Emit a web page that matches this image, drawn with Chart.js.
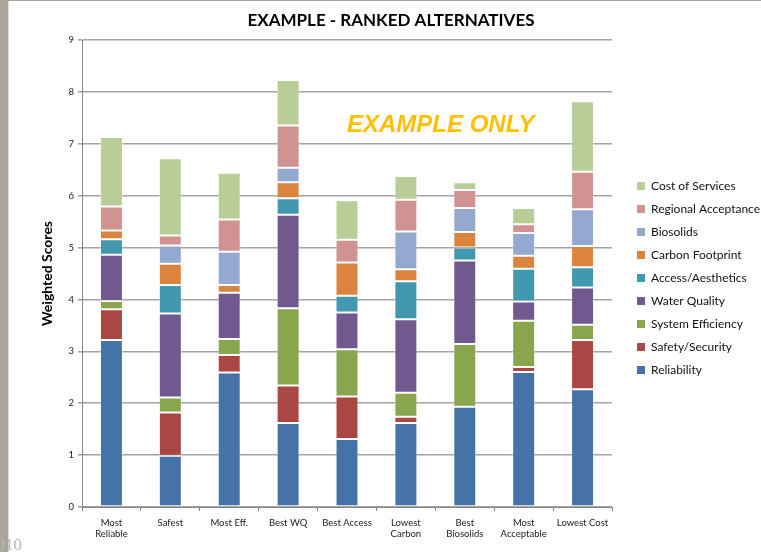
<!DOCTYPE html>
<html lang="en">
<head>
    <meta charset="UTF-8">
    <title>Example - Ranked Alternatives</title>
    <script src="https://cdn.jsdelivr.net/npm/chart.js@4.4.1/dist/chart.umd.min.js"></script>
    <style>
        html, body { margin: 0; padding: 0; background: #fff; }
        #wrap { width: 761px; height: 552px; position: relative; }
    </style>
</head>
<body>
    <div id="wrap">
        <canvas id="chart" width="761" height="552"></canvas>
    </div>

    <script>
        // categories (x axis labels, split in lines)
        const alternatives = [
            ['Most', 'Reliable'], 'Safest', 'Most Eff.', 'Best WQ', 'Best Access',
            ['Lowest', 'Carbon'], ['Best', 'Biosolids'], ['Most', 'Acceptable'], 'Lowest Cost'
        ]

        // weighted score of each criterion, stacked from bottom to top
        const reliability    = [3.22, 0.99, 2.59, 1.62, 1.31, 1.62, 1.93, 2.60, 2.27]
        const safetySecurity = [0.59, 0.83, 0.34, 0.72, 0.82, 0.12, 0.00, 0.10, 0.95]
        const systemEff      = [0.16, 0.29, 0.31, 1.49, 0.91, 0.46, 1.21, 0.89, 0.29]
        const waterQuality   = [0.89, 1.62, 0.89, 1.80, 0.71, 1.42, 1.61, 0.37, 0.72]
        const accessAesth    = [0.30, 0.55, 0.00, 0.32, 0.32, 0.73, 0.25, 0.63, 0.39]
        const carbonFoot     = [0.17, 0.41, 0.15, 0.31, 0.64, 0.23, 0.30, 0.25, 0.41]
        const biosolids      = [0.00, 0.35, 0.64, 0.28, 0.00, 0.73, 0.46, 0.44, 0.71]
        const regionalAcc    = [0.46, 0.19, 0.62, 0.81, 0.44, 0.61, 0.35, 0.17, 0.72]
        const costServices   = [1.34, 1.49, 0.90, 0.88, 0.76, 0.46, 0.15, 0.31, 1.36]

        const yTicks = [0, 1, 2, 3, 4, 5, 6, 7, 8, 9]

        const font = 'Lato, "Noto Sans", sans-serif'

        const series = [
            ['Reliability', reliability, '#4572A7'],
            ['Safety/Security', safetySecurity, '#AA4643'],
            ['System Efficiency', systemEff, '#89A54E'],
            ['Water Quality', waterQuality, '#71588F'],
            ['Access/Aesthetics', accessAesth, '#4198AF'],
            ['Carbon Footprint', carbonFoot, '#DB843D'],
            ['Biosolids', biosolids, '#93A9CF'],
            ['Regional Acceptance', regionalAcc, '#D19392'],
            ['Cost of Services', costServices, '#B9CD96']
        ]

        // slide background: grey strip at the left, footer number
        const slideBg = {
            id: 'slideBg',
            beforeDraw(c) {
                const ctx = c.ctx
                ctx.save()
                ctx.fillStyle = '#fff'
                ctx.fillRect(0, 0, c.width, c.height)
                ctx.fillStyle = '#a9a699'
                ctx.fillRect(0, 0, 8, c.height)
                ctx.fillRect(0, 0, c.width, 1)
                ctx.fillStyle = '#dcdcdc'
                ctx.fillRect(8, 1, 1, c.height)
                ctx.restore()
            },
            afterDraw(c) {
                const ctx = c.ctx
                ctx.save()
                ctx.fillStyle = '#b8b8b8'
                ctx.font = '17px "Liberation Serif", serif'
                ctx.textAlign = 'right'
                ctx.textBaseline = 'alphabetic'
                ctx.fillText('2010', 22, 550)
                ctx.restore()
            }
        }

        // title, watermark and legend on the right
        const extras = {
            id: 'extras',
            afterDraw(c) {
                const ctx = c.ctx
                ctx.save()
                ctx.textBaseline = 'middle'

                ctx.fillStyle = '#000'
                ctx.textAlign = 'center'
                ctx.font = 'bold 17px ' + font
                ctx.fillText('EXAMPLE - RANKED ALTERNATIVES', 391, 21)

                ctx.textAlign = 'left'
                ctx.fillStyle = '#FFC000'
                ctx.font = 'italic bold 24px "Liberation Sans", Arial, sans-serif'
                ctx.fillText('EXAMPLE ONLY', 347, 125)

                const sets = c.data.datasets.slice().reverse()
                ctx.font = '12px ' + font
                sets.forEach((ds, i) => {
                    const y = 186 + i * 23
                    ctx.fillStyle = ds.backgroundColor
                    ctx.fillRect(637, y - 4, 8, 8)
                    ctx.fillStyle = '#111'
                    ctx.fillText(ds.label, 651, y)
                })
                ctx.restore()
            }
        }

        let chart = document.getElementById('chart').getContext('2d')
        let rankChart = new Chart(chart, {
            type: 'bar',
            data: {
                labels: alternatives,
                datasets: series.map(s => ({
                    label: s[0],
                    data: s[1],
                    backgroundColor: s[2],
                    borderColor: 'rgba(255,255,255,0.35)',
                    borderWidth: 1,
                    borderSkipped: false,
                    categoryPercentage: 1,
                    barPercentage: 0.39
                }))
            },
            options: {
                responsive: false,
                animation: false,
                layout: { padding: { left: 0, right: 149, top: 40, bottom: 0 } },
                plugins: {
                    legend: { display: false },
                    tooltip: { enabled: false },
                    title: { display: false }
                },
                scales: {
                    x: {
                        stacked: true,
                        afterFit(s) { s.height = 45 },
                        border: { color: '#868686', width: 1 },
                        grid: { drawOnChartArea: false, drawTicks: true, tickLength: 4, color: '#868686', offset: true },
                        ticks: {
                            color: '#222',
                            font: { family: font, size: 9.5 },
                            padding: 6,
                            maxRotation: 0,
                            autoSkip: false
                        }
                    },
                    y: {
                        stacked: true,
                        min: 0,
                        max: 9,
                        afterFit(s) { s.width = 82 },
                        afterBuildTicks(s) { s.ticks = yTicks.map(v => ({ value: v })) },
                        border: { color: '#868686', width: 1 },
                        grid: { color: '#a4a4a4', lineWidth: 1.6, tickLength: 4, drawTicks: true },
                        ticks: {
                            color: '#222',
                            font: { family: font, size: 9.5 },
                            padding: 4
                        },
                        title: {
                            display: true,
                            text: 'Weighted Scores',
                            color: '#000',
                            font: { family: font, size: 14, weight: 'bold' },
                            padding: { top: 39, bottom: 0 }
                        }
                    }
                }
            },
            plugins: [slideBg, extras]
        })
    </script>
</body>
</html>
